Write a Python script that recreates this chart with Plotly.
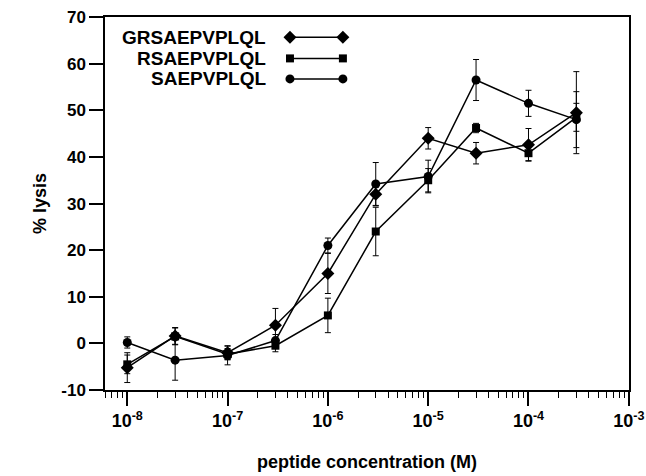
import plotly.graph_objects as go

# ---- data ----
concentration = [1e-8, 3e-8, 1e-7, 3e-7, 1e-6, 3e-6, 1e-5, 3e-5, 1e-4, 3e-4]

series_names = ["GRSAEPVPLQL", "RSAEPVPLQL", "SAEPVPLQL"]
grs_lysis = [-5.2, 1.6, -2.0, 3.9, 15.0, 32.0, 44.0, 40.8, 42.6, 49.5]
grs_err = [3.2, 1.8, 1.5, 3.6, 4.3, 2.5, 2.3, 2.3, 3.5, 8.8]
rs_lysis = [-4.5, 1.5, -2.3, -0.5, 6.0, 24.0, 35.0, 46.2, 40.8, 48.5]
rs_err = [2.0, 1.8, 1.2, 1.3, 3.7, 5.2, 2.5, 1.0, 1.6, 3.0]
sa_lysis = [0.2, -3.6, -2.6, 0.6, 21.0, 34.2, 35.8, 56.5, 51.5, 48.0]
sa_err = [1.2, 4.3, 2.0, 1.3, 1.6, 4.6, 3.5, 4.4, 2.8, 6.0]

x_tickvals = [1e-8, 1e-7, 1e-6, 1e-5, 1e-4, 1e-3]
x_ticktext = ["10<sup>-8</sup>", "10<sup>-7</sup>", "10<sup>-6</sup>",
              "10<sup>-5</sup>", "10<sup>-4</sup>", "10<sup>-3</sup>"]
y_tickvals = [-10, 0, 10, 20, 30, 40, 50, 60, 70]
y_ticktext = ["-10", "0", "10", "20", "30", "40", "50", "60", "70"]

# ---- style ----
FONT = "Liberation Sans, Arial, sans-serif"
symbols = ["diamond", "square", "circle"]
sizes = [10, 8, 9]
# legend key layout (paper fractions of the plot area)
LEG_TEXT_X = 0.312
LEG_KEY_X = [0.353, 0.454]
LEG_ROWS_Y = [0.946, 0.889, 0.834]

fig = go.Figure()

for name, ys, es, sym, sz in zip(series_names,
                                 [grs_lysis, rs_lysis, sa_lysis],
                                 [grs_err, rs_err, sa_err],
                                 symbols, sizes):
    fig.add_trace(go.Scatter(
        x=concentration, y=ys, name=name, mode="lines+markers",
        line=dict(color="black", width=1.5),
        marker=dict(symbol=sym, size=sz, color="black"),
        error_y=dict(type="data", array=es, visible=True,
                     color="black", thickness=1, width=3),
        showlegend=False,
    ))

# custom legend: text right-aligned, key to the right
for i, (name, sym, sz) in enumerate(zip(series_names, symbols, sizes)):
    fig.add_trace(go.Scatter(
        x=LEG_KEY_X, y=[LEG_ROWS_Y[i]] * 2, xaxis="x2", yaxis="y2",
        mode="lines+markers", line=dict(color="black", width=1.5),
        marker=dict(symbol=sym, size=sz, color="black"),
        showlegend=False, hoverinfo="skip",
    ))
    fig.add_annotation(
        x=LEG_TEXT_X, y=LEG_ROWS_Y[i], xref="paper", yref="paper",
        text=name, showarrow=False, xanchor="right", yanchor="middle",
        font=dict(family=FONT, size=19, color="black", weight="bold"),
    )

fig.update_layout(
    width=646, height=476,
    margin=dict(l=105, r=17, t=17, b=86),
    paper_bgcolor="white", plot_bgcolor="white",
    font=dict(family=FONT, color="black"),
    xaxis=dict(
        type="log", range=[-8.222, -2.998], automargin=False,
        tickvals=x_tickvals, ticktext=x_ticktext, ticklabeloverflow="allow",
        ticks="outside", ticklen=14, tickwidth=1.5, tickcolor="black",
        minor=dict(ticks="outside", ticklen=6, tickwidth=1, tickcolor="black",
                   dtick="D1"),
        showline=True, linecolor="black", linewidth=1.5, mirror=True,
        showgrid=False, zeroline=False,
        tickfont=dict(family=FONT, size=18, color="black", weight="bold"),
        title=dict(text="peptide concentration (M)", standoff=25,
                   font=dict(family=FONT, size=18, color="black", weight="bold")),
    ),
    yaxis=dict(
        range=[-10, 70.02], tickvals=y_tickvals, ticktext=y_ticktext,
        automargin=False, ticklabeloverflow="allow",
        ticks="outside", ticklen=14, tickwidth=1.5, tickcolor="black",
        showline=True, linecolor="black", linewidth=1.5, mirror=True,
        showgrid=False, zeroline=False,
        tickfont=dict(family=FONT, size=17, color="black", weight="bold"),
        title=dict(text="% lysis", standoff=10,
                   font=dict(family=FONT, size=18, color="black", weight="bold")),
    ),
    xaxis2=dict(range=[0, 1], domain=[0, 1], anchor="y2", overlaying="x",
                visible=False, fixedrange=True),
    yaxis2=dict(range=[0, 1], domain=[0, 1], anchor="x2", overlaying="y",
                visible=False, fixedrange=True),
)

fig.write_html(
    "out.html",
    config={"displayModeBar": False},
    post_script="document.body.style.margin='0';document.body.style.overflow='hidden';",
)
